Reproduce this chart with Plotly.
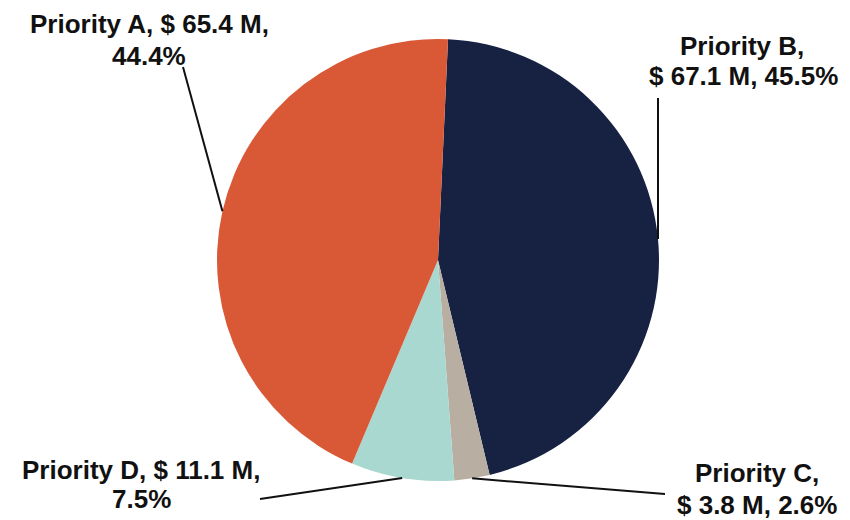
import math
import plotly.graph_objects as go

# ---- data ----
categories = ["Priority B", "Priority C", "Priority D", "Priority A"]
values_musd = [67.1, 3.8, 11.1, 65.4]
colors = ["#172243", "#B8AFA2", "#A8D8D0", "#D95836"]

W, H = 850, 520
cx, cy, R = 438, 260, 221
rotation = 2.6

total = sum(values_musd)
pcts = [v / total * 100 for v in values_musd]

fig = go.Figure(go.Pie(
    labels=categories,
    values=values_musd,
    sort=False,
    direction="clockwise",
    rotation=rotation,
    marker=dict(colors=colors, line=dict(width=0)),
    textinfo="none",
    hoverinfo="label+value+percent",
    domain=dict(x=[(cx - R) / W, (cx + R) / W], y=[1 - (cy + R) / H, 1 - (cy - R) / H]),
    showlegend=False,
))

def txt(i):
    name = categories[i]
    return name, f"$ {values_musd[i]} M", f"{pcts[i]:.1f}%"

label_layout = {
    0: (lambda n, v, p: [f"{n},", f"{v}, {p}"], [(742, 46), (743, 76)], (658, 98)),
    1: (lambda n, v, p: [f"{n},", f"{v}, {p}"], [(757, 473), (757, 505)], (665, 494)),
    2: (lambda n, v, p: [f"{n}, {v},", f"{p}"], [(141, 470), (141, 499)], (260, 499)),
    3: (lambda n, v, p: [f"{n}, {v},", f"{p}"], [(149, 24), (149, 56)], (183, 67)),
}

annotations = []
shapes = []
cum = 0.0
for i, v in enumerate(values_musd):
    mid = (cum + v / 2) / total * 360 + rotation
    cum += v
    a = math.radians(mid)
    ex, ey = cx + R * math.sin(a), cy - R * math.cos(a)
    builder, centers, (ox, oy) = label_layout[i]
    lines = builder(*txt(i))
    for line, (lx, ly) in zip(lines, centers):
        annotations.append(dict(
            text=line, x=lx / W, y=1 - ly / H, xref="paper", yref="paper",
            xanchor="center", yanchor="middle", showarrow=False,
            font=dict(family="Liberation Sans, Arial, sans-serif", size=26, color="#111111", weight="bold"),
        ))
    shapes.append(dict(
        type="line", xref="paper", yref="paper",
        x0=ex / W, y0=1 - ey / H, x1=ox / W, y1=1 - oy / H,
        line=dict(color="#111111", width=2),
    ))

fig.update_layout(
    width=W, height=H,
    margin=dict(l=0, r=0, t=0, b=0),
    paper_bgcolor="white", plot_bgcolor="white",
    annotations=annotations, shapes=shapes,
)

fig.write_html("out.html")
